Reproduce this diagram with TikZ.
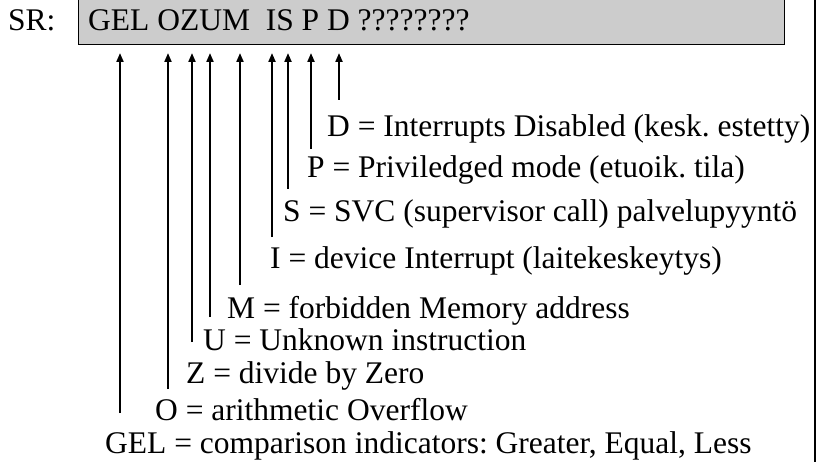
\documentclass[tikz,border=0pt]{standalone}
\usepackage{fontspec}
\setmainfont{Liberation Serif}
\usetikzlibrary{arrows.meta, positioning, calc}
\frenchspacing

\begin{document}
\begin{tikzpicture}[
    x=1pt, y=-1pt,
    font=\fontsize{31.5}{36}\selectfont,
    regbox/.style={rectangle, draw, line width=1.3pt, fill=black!20, anchor=south west, minimum width=706pt, minimum height=60pt, inner sep=0pt},
    flag/.style={anchor=base west, inner sep=0pt},
    arrow/.style={-{Triangle[length=9pt, width=7pt]}, line width=2pt, shorten >=8pt}
]
\useasboundingbox (0,0) rectangle (818,462);

% Status register
\node[regbox] (reg) at (78,45) {};
\node[flag] (regtext) at (88,31) {GEL OZUM\ \ IS P D ????????};
\node[flag] (srlabel) at (8,31) {SR:};

% Frame edge on the right
\draw[line width=2.2pt] (815,-2) -- (815,464);

% Flag descriptions
\node[flag] (dlab) at (327,137) {D = Interrupts Disabled (kesk. estetty)};
\node[flag] (plab) at (307,178) {P = Priviledged mode (etuoik. tila)};
\node[flag] (slab) at (283,222) {S = SVC (supervisor call) palvelupyyntö};
\node[flag] (ilab) at (270,268) {I = device Interrupt (laitekeskeytys)};
\node[flag] (mlab) at (227,318) {M = forbidden Memory address};
\node[flag] (ulab) at (203,350) {U = Unknown instruction};
\node[flag] (zlab) at (186,383) {Z = divide by Zero};
\node[flag] (olab) at (155,420) {O = arithmetic Overflow};
\node[flag] (gellab) at (105,453) {GEL = comparison indicators: Greater, Equal, Less};

% Arrow tails
\coordinate (gelTail) at (120,413);
\coordinate (oTail) at (168,389);
\coordinate (zTail) at (192,342);
\coordinate (uTail) at (210,317);
\coordinate (mTail) at (240,285);
\coordinate (iTail) at (272,237);
\coordinate (sTail) at (288,189);
\coordinate (pTail) at (311,149);
\coordinate (dTail) at (339,100);

\draw[arrow] (gelTail) -- (gelTail |- reg.south);
\draw[arrow] (oTail) -- (oTail |- reg.south);
\draw[arrow] (zTail) -- (zTail |- reg.south);
\draw[arrow] (uTail) -- (uTail |- reg.south);
\draw[arrow] (mTail) -- (mTail |- reg.south);
\draw[arrow] (iTail) -- (iTail |- reg.south);
\draw[arrow] (sTail) -- (sTail |- reg.south);
\draw[arrow] (pTail) -- (pTail |- reg.south);
\draw[arrow] (dTail) -- (dTail |- reg.south);

\end{tikzpicture}
\end{document}
